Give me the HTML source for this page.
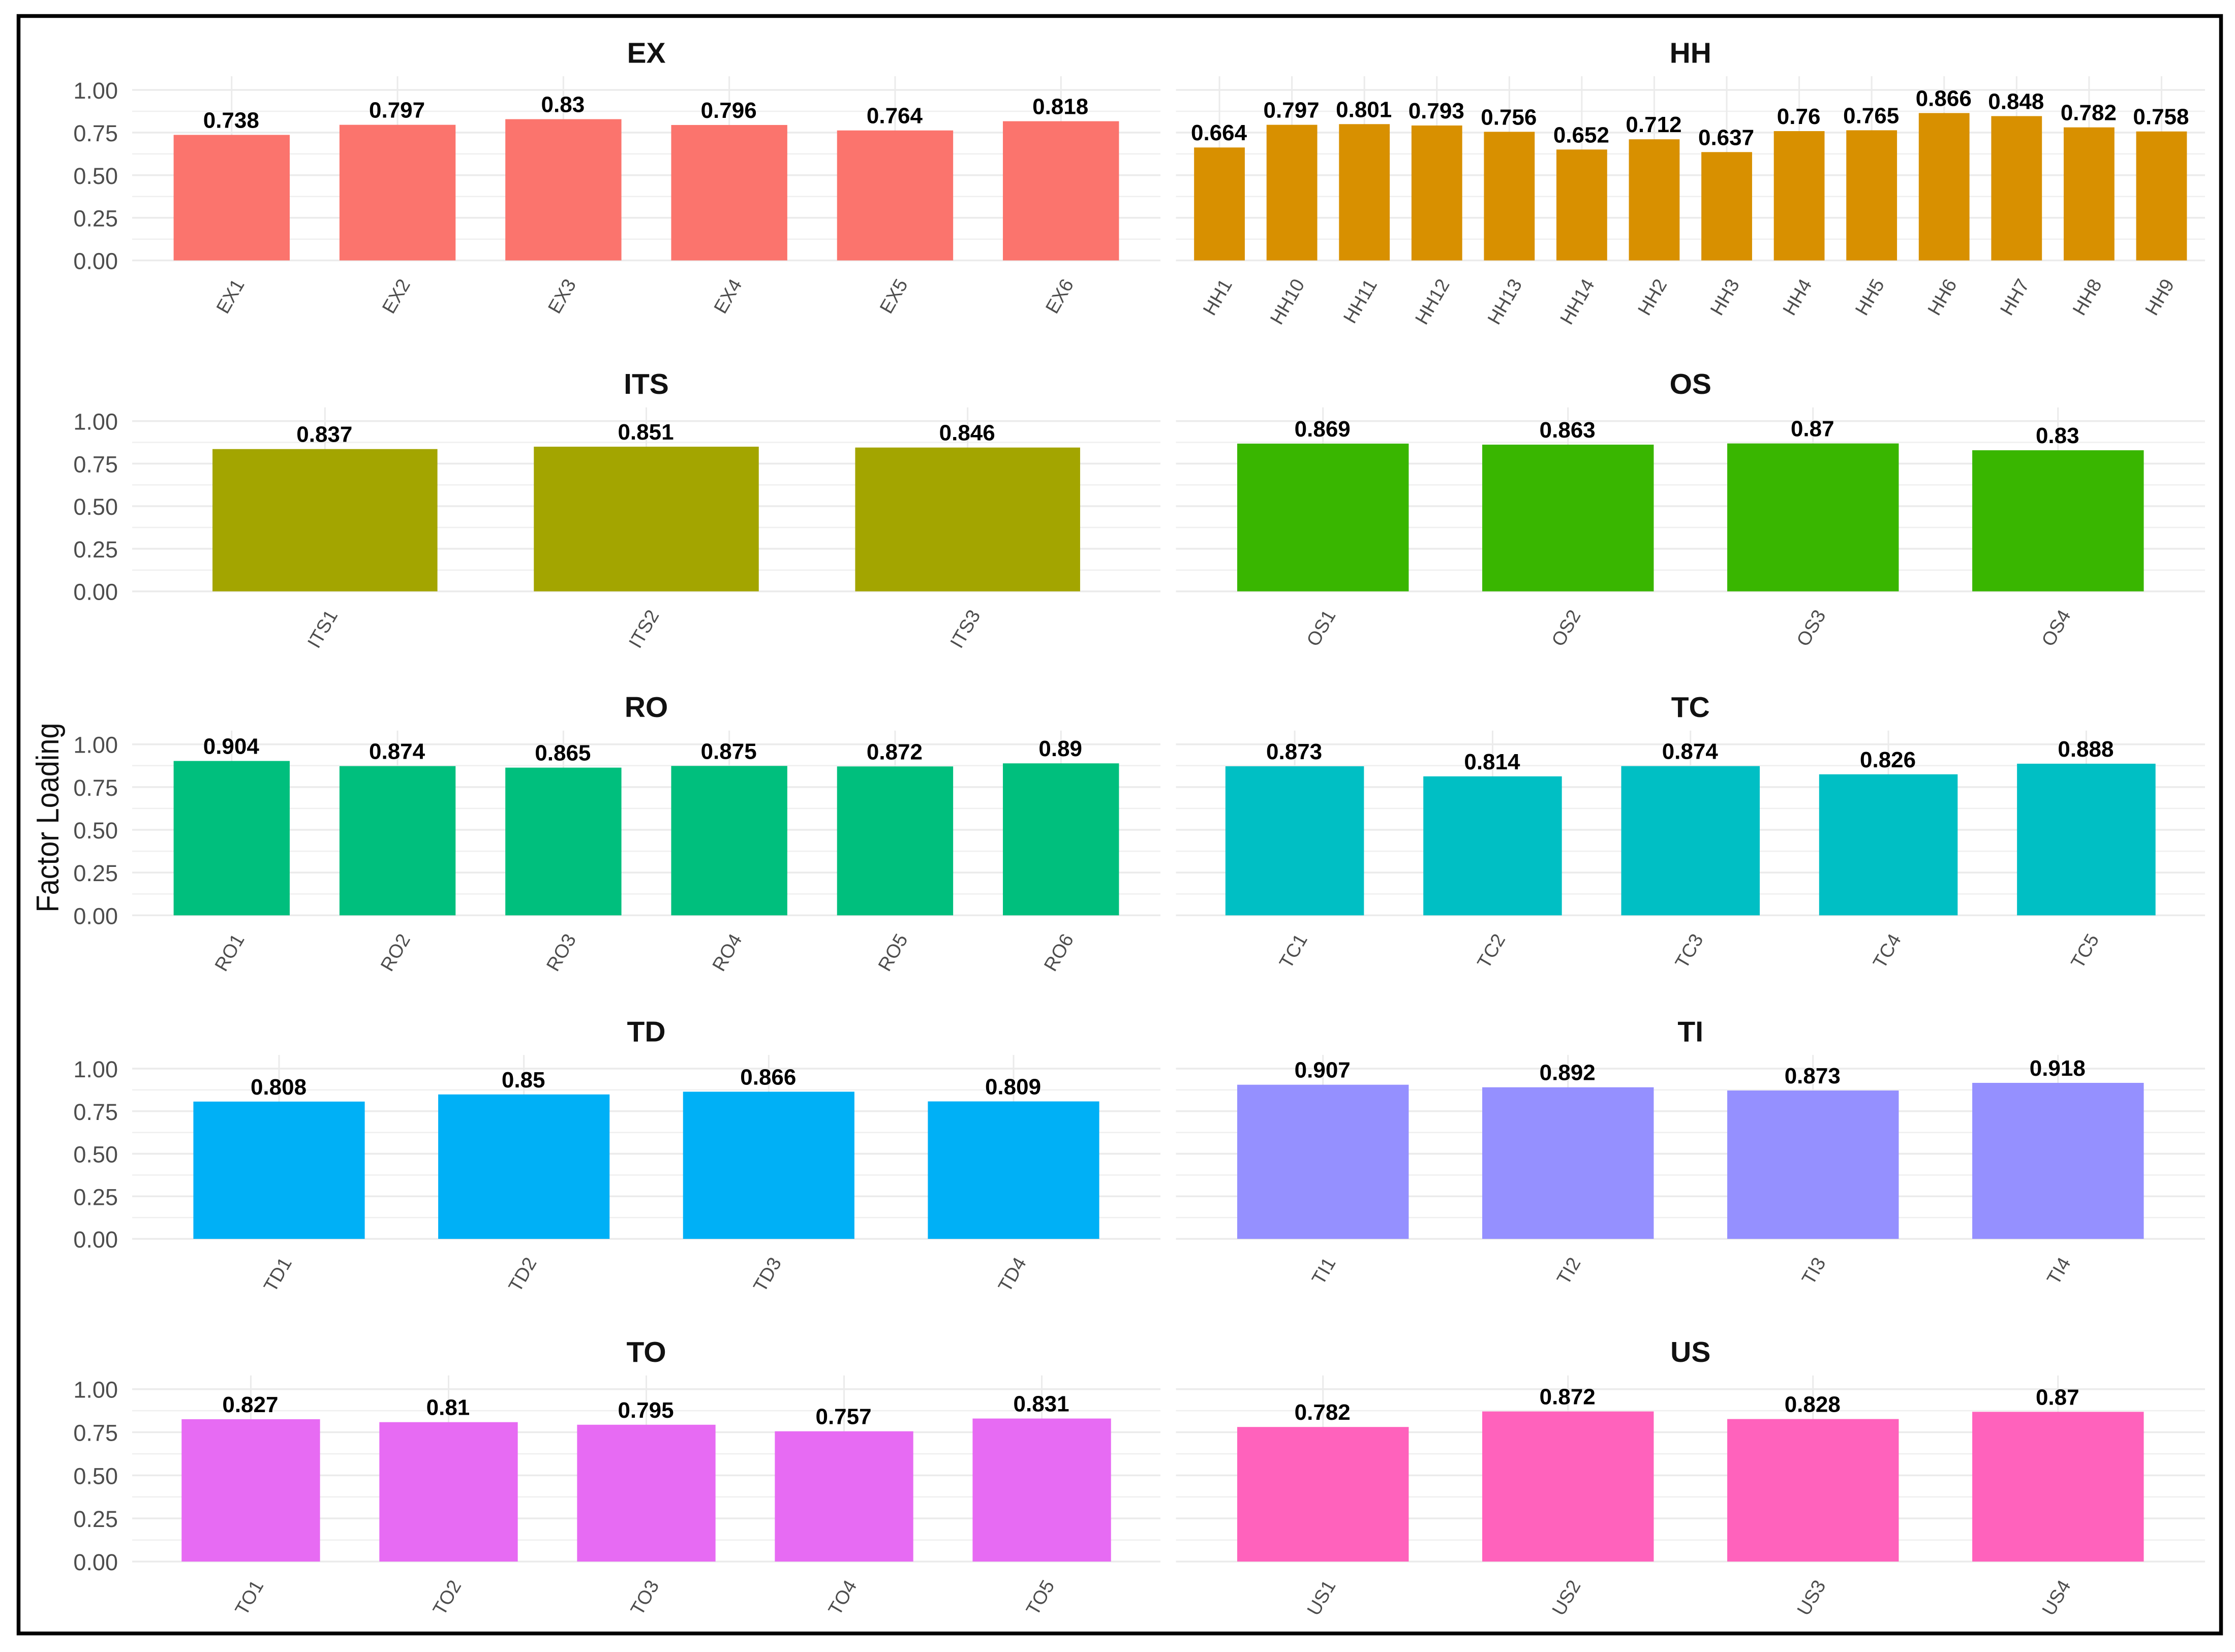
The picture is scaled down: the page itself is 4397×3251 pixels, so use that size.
<!DOCTYPE html>
<html lang="en">
<head>
<meta charset="utf-8">
<title>Factor Loading by Construct</title>
<style>
html,body{margin:0;padding:0;background:#fff;width:4397px;height:3251px;overflow:hidden}
svg{display:block;font-family:"Liberation Sans",Arial,sans-serif}
</style>
</head>
<body>
<svg id="chart" xmlns="http://www.w3.org/2000/svg" width="4397" height="3251" viewBox="0 0 4397 3251">
<rect x="0" y="0" width="4397" height="3251" fill="#fff"/>
<rect x="36.5" y="31.5" width="4333" height="3183" fill="none" stroke="#000" stroke-width="7.5"/>
<text transform="translate(115,1609) rotate(-90)" text-anchor="middle" font-size="62" textLength="373" lengthAdjust="spacingAndGlyphs" fill="#111">Factor Loading</text>
</svg>
<script>
const exCategories = ['EX1','EX2','EX3','EX4','EX5','EX6'];
const exValues = [0.738,0.797,0.83,0.796,0.764,0.818];
const hhCategories = ['HH1','HH10','HH11','HH12','HH13','HH14','HH2','HH3','HH4','HH5','HH6','HH7','HH8','HH9'];
const hhValues = [0.664,0.797,0.801,0.793,0.756,0.652,0.712,0.637,0.76,0.765,0.866,0.848,0.782,0.758];
const itsCategories = ['ITS1','ITS2','ITS3'];
const itsValues = [0.837,0.851,0.846];
const osCategories = ['OS1','OS2','OS3','OS4'];
const osValues = [0.869,0.863,0.87,0.83];
const roCategories = ['RO1','RO2','RO3','RO4','RO5','RO6'];
const roValues = [0.904,0.874,0.865,0.875,0.872,0.89];
const tcCategories = ['TC1','TC2','TC3','TC4','TC5'];
const tcValues = [0.873,0.814,0.874,0.826,0.888];
const tdCategories = ['TD1','TD2','TD3','TD4'];
const tdValues = [0.808,0.85,0.866,0.809];
const tiCategories = ['TI1','TI2','TI3','TI4'];
const tiValues = [0.907,0.892,0.873,0.918];
const toCategories = ['TO1','TO2','TO3','TO4','TO5'];
const toValues = [0.827,0.81,0.795,0.757,0.831];
const usCategories = ['US1','US2','US3','US4'];
const usValues = [0.782,0.872,0.828,0.87];
const panelTitles = ['EX','HH','ITS','OS','RO','TC','TD','TI','TO','US'];
const panelColors = ['#FB746D','#D89000','#A3A500','#39B600','#00BF7D','#00BFC4','#00B0F6','#9590FF','#E76BF3','#FF62BC'];
const yTickValues = [0,0.25,0.5,0.75,1];
const yTickLabels = ['0.00','0.25','0.50','0.75','1.00'];
const yMinorValues = [0.125,0.375,0.625,0.875];

const allCategories = [exCategories,hhCategories,itsCategories,osCategories,roCategories,tcCategories,tdCategories,tiCategories,toCategories,usCategories];
const allValues = [exValues,hhValues,itsValues,osValues,roValues,tcValues,tdValues,tiValues,toValues,usValues];

const NS = 'http://www.w3.org/2000/svg';
const svg = document.getElementById('chart');
const rowGeometry = [{top:177,base:512.5},{top:828.6,base:1163.7},{top:1464.7,base:1801.3},{top:2103,base:2438},{top:2733.7,base:3073}];
const colGeometry = [{left:260,right:2283},{left:2313.5,right:4338}];

function make(tag, attrs, parent){
  const el = document.createElementNS(NS, tag);
  for (const k in attrs) el.setAttribute(k, attrs[k]);
  parent.appendChild(el);
  return el;
}
function xScale(col, n){
  const step = (col.right - col.left) / (n + 0.2);
  return { step: step, center: i => col.left + (0.6 + i) * step };
}
function yScale(row){
  return v => row.base - v * (row.base - row.top);
}

panelTitles.forEach((title, p) => {
  const row = rowGeometry[Math.floor(p / 2)];
  const col = colGeometry[p % 2];
  const cats = allCategories[p];
  const vals = allValues[p];
  const x = xScale(col, cats.length);
  const y = yScale(row);
  const key = title.toLowerCase();

  const g = make('g', {}, svg);
  
  

  yMinorValues.forEach(v => {
    const l = make('line', {x1:col.left, x2:col.right, y1:y(v), y2:y(v), stroke:'#efefef', 'stroke-width':2.5}, g);
    
    
  });
  yTickValues.forEach((v, i) => {
    const l = make('line', {x1:col.left, x2:col.right, y1:y(v), y2:y(v), stroke:'#ebebeb', 'stroke-width':3.5}, g);
    
    
    if (col.left < 300) {
      const t = make('text', {x:232, y:y(v)+17, 'text-anchor':'end', 'font-size':45, fill:'#4d4d4d'}, g);
      t.textContent = yTickLabels[i];
      
      
    }
  });
  cats.forEach((c, i) => {
    const l = make('line', {x1:x.center(i), x2:x.center(i), y1:row.top-27, y2:row.base, stroke:'#ebebeb', 'stroke-width':3}, g);
    
    
  });
  cats.forEach((c, i) => {
    const w = x.step * 0.7;
    const top = y(vals[i]) + 0.5;
    const r = make('rect', {x:x.center(i)-w/2, y:top, width:w, height:row.base-top, fill:panelColors[p]}, g);
    
    
    const vt = make('text', {x:x.center(i)-1, y:top-14, 'text-anchor':'middle', 'font-size':44, 'font-weight':'bold', fill:'#000'}, g);
    vt.textContent = String(vals[i]);
    
    
    const tt = make('text', {transform:'translate(' + (x.center(i)+26) + ',' + (row.base+46) + ') rotate(-60)', 'text-anchor':'end', 'font-size':37.5, fill:'#4d4d4d'}, g);
    tt.textContent = c;
    
    
  });
  const tl = make('text', {x:(col.left+col.right)/2, y:row.top-53.5, 'text-anchor':'middle', 'font-size':57, 'font-weight':'bold', fill:'#111'}, g);
  tl.textContent = title;
  
  
});
</script>
</body>
</html>
